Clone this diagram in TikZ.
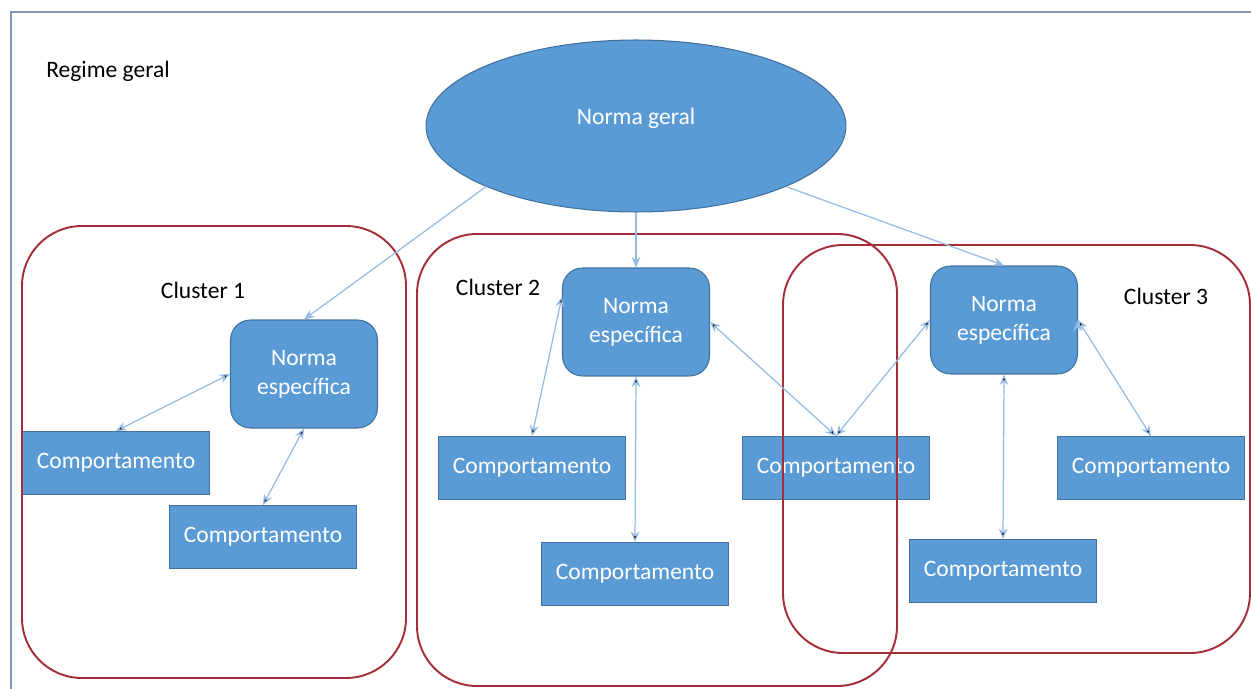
\documentclass[tikz,border=0pt]{standalone}
\usepackage{fontspec}
\setmainfont{Carlito}
\usepackage{tikz}
\usetikzlibrary{arrows.meta, positioning, shapes.geometric}
\definecolor{boxblue}{RGB}{91,155,213}
\definecolor{boxedge}{RGB}{65,113,156}
\definecolor{linkblue}{RGB}{150,186,226}
\definecolor{clusterred}{RGB}{165,45,58}
\definecolor{framegray}{RGB}{132,151,176}

\begin{document}
\begin{tikzpicture}[x=0.02cm,y=-0.02cm,>={Stealth[length=6pt,width=5pt]},
    font=\fontsize{13.4}{16.4}\selectfont]
  \tikzstyle{norma}=[draw=boxedge,fill=boxblue,text=white,rounded corners=0.4cm,
    minimum width=2.94cm,minimum height=2.16cm,align=center,line width=0.6pt]
  \tikzstyle{comp}=[draw=boxedge,fill=boxblue,text=white,
    minimum width=3.74cm,minimum height=1.26cm,line width=0.6pt]
  \tikzstyle{cluster}=[draw=clusterred,line width=1.1pt,rounded corners=1.2cm]
  \tikzstyle{link}=[draw=linkblue,line width=0.7pt]

  \useasboundingbox (0,0) rectangle (1251,689);
  \draw[framegray,line width=1.2pt] (11,689) -- (11,12) -- (1251,12);

  \node (regime) at (108,71) {Regime geral};
  \node[ellipse,draw=boxedge,fill=boxblue,text=white,inner sep=0pt,text depth=0.4cm,
    minimum width=8.4cm,minimum height=3.44cm,line width=0.6pt] (n_0) at (636,126) {Norma geral};

  \node[norma] (n_1) at (304,374) {Norma\\específica};
  \node[norma] (n_2) at (636,322) {Norma\\específica};
  \node[norma] (n_3) at (1004,320) {Norma\\específica};

  \node[comp] (c_1) at (116,463)  {Comportamento};
  \node[comp] (c_2) at (263,537)  {Comportamento};
  \node[comp] (c_3) at (532,468)  {Comportamento};
  \node[comp] (c_4) at (635,574)  {Comportamento};
  \node[comp] (c_5) at (836,468)  {Comportamento};
  \node[comp] (c_6) at (1151,468) {Comportamento};
  \node[comp] (c_7) at (1003,571) {Comportamento};

  % clusters
  \draw[cluster] (22,226) rectangle (406,678);
  \draw[cluster] (417,234) rectangle (897,686);
  \draw[cluster] (783,245) rectangle (1250,653);
  \node (k_1) at (203,290)  {Cluster 1};
  \node (k_2) at (498,287)  {Cluster 2};
  \node (k_3) at (1166,296) {Cluster 3};

  \draw[link,->] (n_0.202) -- (n_1.north);
  \draw[link,->] (n_0.south) -- (n_2.north);
  \draw[link,->] (n_0.338) -- (n_3.north);

  \path[link,<->]
  (n_1.west)  edge (c_1.north)
  (n_1.south) edge (c_2.north)
  (n_2.161)   edge (c_3.north)
  (n_2.south) edge (c_4.north)
  (n_2.east)  edge (c_5.north)
  (n_3.west)  edge (c_5.north)
  (n_3.south) edge (c_7.north)
  (n_3.east)  edge (c_6.north)
  ;
\end{tikzpicture}
\end{document}
